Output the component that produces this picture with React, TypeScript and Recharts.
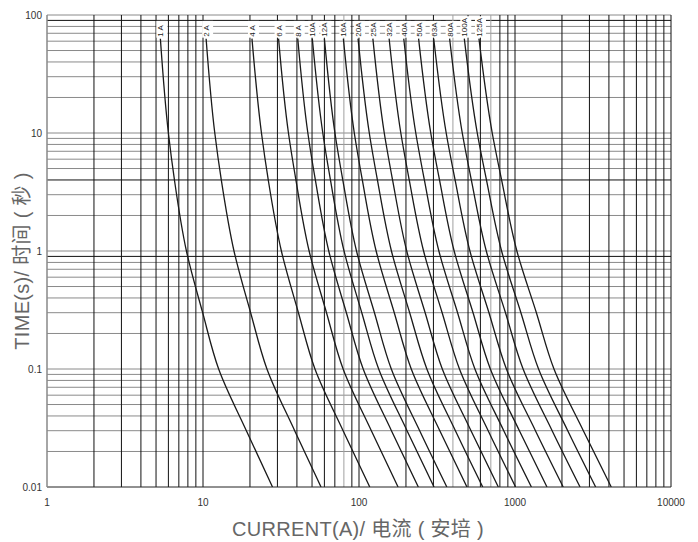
import React from 'react';
import { LineChart, Line, XAxis, YAxis, ReferenceLine } from 'recharts';

// time levels (s) at which each curve was read
const times = [63, 10, 4, 1, 0.3, 0.1, 0.03, 0.01];

const labels = ['1 A', '2 A', '4 A', '6 A', '8 A', '10A', '12A', '16A', '20A', '25A', '32A', '40A', '50A', '63A', '80A', '100A', '125A'];

// current (A) of each curve at the time levels above
const c1 = [5.33, 6.0, 6.56, 7.83, 9.95, 12.6, 18.97, 27.9];
const c2 = [10.47, 11.9, 13.1, 15.8, 20.2, 25.7, 38.7, 57.1];
const c4 = [20.6, 23.7, 26.2, 31.8, 40.9, 52.2, 79.1, 117.2];
const c6 = [30.5, 35.3, 39.4, 47.9, 61.9, 79.1, 120, 178];
const c8 = [40.5, 47.0, 52.5, 64.0, 83.0, 106.4, 161.4, 240];
const c10 = [50.2, 58.6, 65.6, 80.2, 104.2, 133.7, 203.2, 302.7];
const c12 = [60.0, 70.1, 78.7, 96.4, 125.6, 161.1, 244.9, 365.6];
const c16 = [79.4, 93.3, 105.0, 128.8, 168.3, 216.3, 329.6, 492];
const c20 = [98.6, 116.4, 131.2, 161.4, 211.3, 272.3, 415, 620.9];
const c25 = [122.7, 145.2, 164.1, 202.3, 265.5, 342, 522.4, 781.6];
const c32 = [156, 185.4, 209.9, 259.4, 341.2, 440.6, 673, 1009];
const c40 = [193.6, 231.2, 262.4, 325.1, 428.5, 553.4, 847.2, 1274];
const c50 = [241, 288.4, 328.1, 407.4, 538.3, 695, 1067, 1603];
const c63 = [301.3, 362.2, 413, 514, 680.8, 881, 1352, 2037];
const c80 = [381, 459.2, 524.8, 654.6, 868.9, 1127, 1730, 2612];
const c100 = [473.2, 572.8, 656.1, 820.4, 1091, 1416, 2178, 3289];
const c125 = [587.5, 714.5, 820.4, 1028, 1371, 1778, 2742, 4140];

const curves = [c1, c2, c4, c6, c8, c10, c12, c16, c20, c25, c32, c40, c50, c63, c80, c100, c125];

const xTicks = [1, 10, 100, 1000, 10000];
const yTicks = [0.01, 0.1, 1, 10, 100];

const gridX = [2, 3, 4, 5, 6, 7, 8, 9, 10, 20, 30, 40, 50, 60, 70, 80, 90, 100, 200, 300, 400, 500, 600, 700, 800, 900, 1000, 2000, 3000, 4000, 5000, 6000, 7000, 8000, 9000, 10000];
const greyX = [80, 400, 700];
const gridY = [0.02, 0.03, 0.04, 0.05, 0.06, 0.07, 0.08, 0.09, 0.1, 0.2, 0.3, 0.4, 0.5, 0.6, 0.7, 0.8, 0.9, 1, 2, 3, 4, 5, 6, 7, 8, 9, 10, 20, 30, 40, 50, 60, 70, 80, 90, 100];
const blackY = [90, 4, 0.9];

const FONT = '"Liberation Sans", Arial, "Noto Sans CJK SC", sans-serif';

const makeDot = (label: string) => (props: any) => {
  const { cx, cy, index } = props;
  if (index !== 0 || cx == null || cy == null) return <g key={`d${index}`} />;
  const len = label.length * 4.6 + 1;
  return (
    <g key={`d${index}`}>
      <rect x={cx - 4} y={cy - 3 - len} width={11} height={len + 2} fill="#fff" />
      <text
        transform={`translate(${cx + 3},${cy - 2}) rotate(-90)`}
        fontSize={8}
        fill="#222"
        fontFamily={FONT}
      >
        {label}
      </text>
    </g>
  );
};

export default function App() {
  return (
    <div style={{ position: 'absolute', left: 0, top: 0, width: 698, height: 542, background: '#fff', overflow: 'hidden' }}>
      <LineChart
        width={698}
        height={542}
        margin={{ top: 15, right: 27, bottom: 25, left: 0 }}
      >
        <XAxis
          type="number"
          dataKey="i"
          scale="log"
          domain={[1, 10000]}
          ticks={xTicks}
          allowDataOverflow
          height={30}
          tickSize={0}
          tickMargin={12}
          axisLine={{ stroke: '#222', strokeWidth: 1 }}
          tick={{ fontSize: 10, fill: '#333', fontFamily: FONT }}
        />
        <YAxis
          type="number"
          dataKey="t"
          scale="log"
          domain={[0.01, 100]}
          ticks={yTicks}
          allowDataOverflow
          width={47}
          tickSize={0}
          tickMargin={5}
          axisLine={{ stroke: '#888', strokeWidth: 1.5 }}
          tick={{ fontSize: 10, fill: '#333', fontFamily: FONT }}
          tickFormatter={(v: number) => String(v)}
        />
        {gridY.map((v) => (
          <ReferenceLine
            key={`gy${v}`}
            y={v}
            stroke={blackY.includes(v) ? '#111' : '#8a8a8a'}
            strokeWidth={1}
          />
        ))}
        {gridX.map((v) => (
          <ReferenceLine
            key={`gx${v}`}
            x={v}
            stroke={greyX.includes(v) ? '#a0a0a0' : '#111'}
            strokeWidth={1}
          />
        ))}
        {curves.map((c, idx) => (
          <Line
            key={labels[idx]}
            data={c.map((I, k) => ({ i: I, t: times[k] }))}
            dataKey="t"
            type="monotoneY"
            stroke="#1a1a1a"
            strokeWidth={1.3}
            dot={makeDot(labels[idx])}
            activeDot={false}
            isAnimationActive={false}
          />
        ))}
      </LineChart>
      <div
        style={{
          position: 'absolute',
          left: 358,
          top: 519,
          transform: 'translateX(-50%)',
          fontFamily: FONT,
          fontSize: 20,
          lineHeight: '21px',
          letterSpacing: 0.3,
          color: '#666',
          whiteSpace: 'nowrap',
        }}
      >
        CURRENT(A)/ 电流 ( 安培 )
      </div>
      <div
        style={{
          position: 'absolute',
          left: 22,
          top: 261,
          transform: 'translate(-50%, -50%) rotate(-90deg)',
          fontFamily: FONT,
          fontSize: 20,
          lineHeight: '21px',
          letterSpacing: 0.3,
          color: '#666',
          whiteSpace: 'nowrap',
        }}
      >
        TIME(s)/ 时间 ( 秒 )
      </div>
    </div>
  );
}
